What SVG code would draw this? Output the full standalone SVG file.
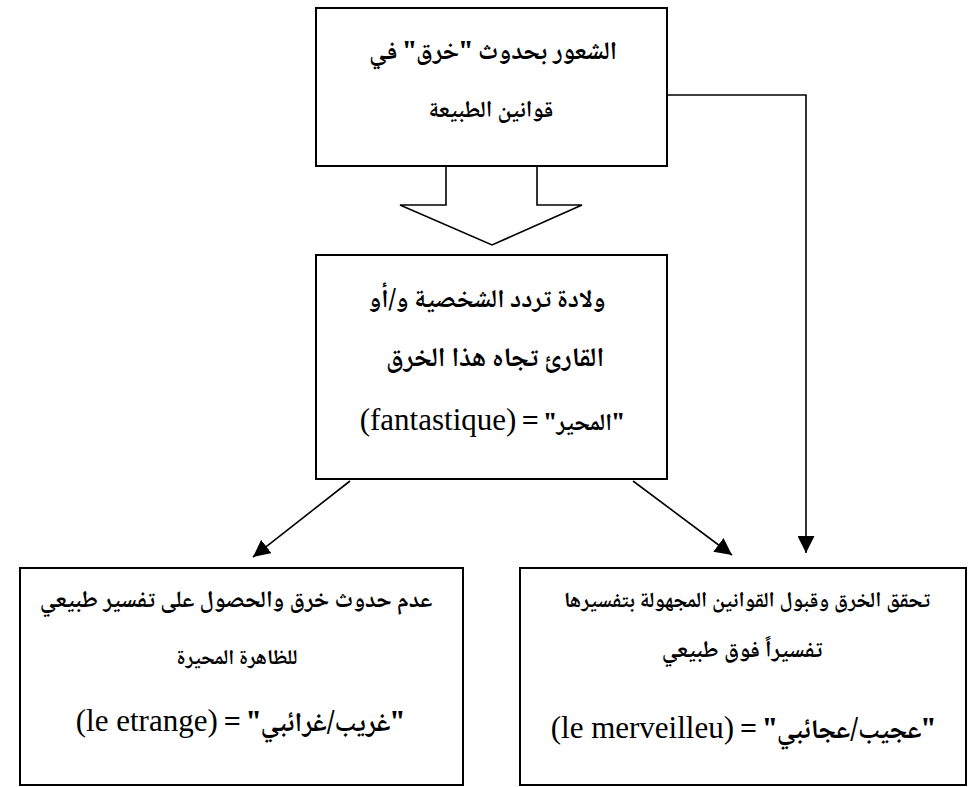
<svg xmlns="http://www.w3.org/2000/svg" width="968" height="787" viewBox="0 0 968 787">
<style>
.box{fill:#fff;stroke:#000;stroke-width:2}
.ln{fill:none;stroke:#000;stroke-width:1.6}
.ar{font-family:"Noto Naskh Arabic","Noto Sans Arabic","DejaVu Sans",serif;font-weight:bold;fill:#000;text-anchor:middle}
.lat{font-family:"Liberation Serif","Times New Roman",serif;font-weight:normal;font-size:31px}
.eq{font-family:"Liberation Serif","Times New Roman",serif;font-weight:bold;font-size:30px}
</style>
<defs>
<marker id="ah" viewBox="0 0 10 10" refX="10" refY="5" markerWidth="17" markerHeight="17" markerUnits="userSpaceOnUse" orient="auto">
<path d="M0,0 L10,5 L0,10 z" fill="#000"/>
</marker>
</defs>
<g id="connectors">
<polyline class="ln" points="667,95 806,95 806,553" marker-end="url(#ah)"/>
<line class="ln" x1="350" y1="481" x2="253" y2="557" marker-end="url(#ah)"/>
<line class="ln" x1="633" y1="481" x2="732" y2="555" marker-end="url(#ah)"/>
<polygon id="block-arrow" points="446,166 446,205 400,205 492,245 582,205 537,205 537,166" fill="#fff" stroke="#000" stroke-width="1.6"/>
</g>
<g id="n1">
<rect class="box" x="316" y="8" width="351" height="158"/>
<text class="ar" x="493" y="59" direction="rtl" font-size="25.5">الشعور بحدوث "خرق" في</text>
<text class="ar" x="491" y="117" direction="rtl" font-size="23">قوانين الطبيعة</text>
</g>
<g id="n2">
<rect class="box" x="316" y="255" width="351" height="224"/>
<text class="ar" x="487" y="307" direction="rtl" font-size="25.6">ولادة تردد الشخصية و/أو</text>
<text class="ar" x="495" y="366" direction="rtl" font-size="27">القارئ تجاه هذا الخرق</text>
<text class="ar" x="492" y="430" direction="ltr" font-size="24"><tspan class="lat">(fantastique)</tspan> <tspan class="eq">=</tspan> "المحير"</text>
</g>
<g id="n3">
<rect class="box" x="20" y="568" width="443" height="217"/>
<text class="ar" x="236" y="607" direction="rtl" font-size="23.5">عدم حدوث خرق والحصول على تفسير طبيعي</text>
<text class="ar" x="237" y="664" direction="rtl" font-size="21">للظاهرة المحيرة</text>
<text class="ar" x="240" y="731" direction="ltr" font-size="27"><tspan class="lat">(le etrange)</tspan> <tspan class="eq">=</tspan> "غريب/غرائبي"</text>
</g>
<g id="n4">
<rect class="box" x="520" y="568" width="446" height="217"/>
<text class="ar" x="747" y="607" direction="rtl" font-size="21.5">تحقق الخرق وقبول القوانين المجهولة بتفسيرها</text>
<text class="ar" x="742" y="657" direction="rtl" font-size="23">تفسيراً فوق طبيعي</text>
<text class="ar" x="743" y="738" direction="ltr" font-size="27"><tspan class="lat">(le merveilleu)</tspan> <tspan class="eq">=</tspan> "عجيب/عجائبي"</text>
</g>
</svg>
